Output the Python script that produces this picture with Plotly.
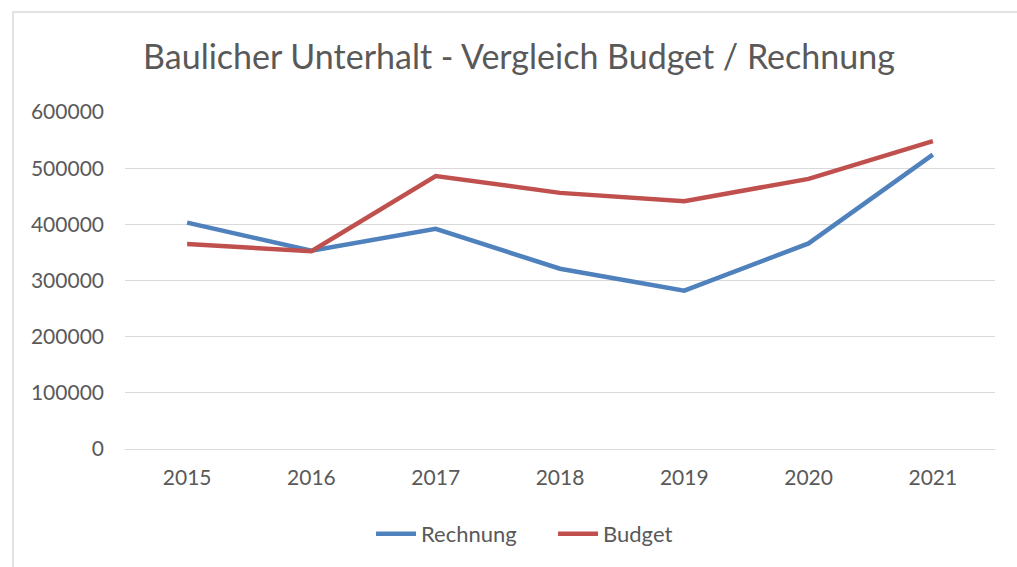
import plotly.graph_objects as go

years = ["2015", "2016", "2017", "2018", "2019", "2020", "2021"]
rechnung = [403000, 353000, 392000, 321000, 282000, 366000, 524000]
budget = [365000, 352000, 486000, 456000, 441000, 481000, 548000]
y_ticks = [0, 100000, 200000, 300000, 400000, 500000, 600000]

font_family = "Lato, Open Sans, sans-serif"
gray = "#595959"

fig = go.Figure()
fig.add_trace(go.Scatter(x=years, y=rechnung, mode="lines", name="Rechnung",
                         line=dict(color="#4F81BD", width=4.5)))
fig.add_trace(go.Scatter(x=years, y=budget, mode="lines", name="Budget",
                         line=dict(color="#C0504D", width=4.5)))

fig.update_layout(
    width=1017, height=567,
    margin=dict(l=125, r=22, t=112, b=118),
    paper_bgcolor="white", plot_bgcolor="white",
    title=dict(text="Baulicher Unterhalt - Vergleich Budget / Rechnung",
               x=0.5103, xanchor="center", y=0.8995, yanchor="middle",
               font=dict(family=font_family, size=34, color=gray)),
    font=dict(family=font_family, size=21, color=gray),
    xaxis=dict(type="category", range=[-0.5, 6.5], showgrid=False,
               showline=True, linecolor="#d9d9d9", linewidth=1.3,
               ticks="", tickfont=dict(size=21, color=gray), ticklabelstandoff=10),
    yaxis=dict(range=[0, 600000], tickvals=y_ticks, tickformat="d",
               showgrid=True, gridcolor="#d9d9d9", gridwidth=1.3,
               zeroline=False, showline=False, ticks="",
               tickfont=dict(size=21, color=gray), ticklabelstandoff=20),
    legend=dict(orientation="h", x=0.2828, xanchor="left", y=-0.19, yanchor="top",
                font=dict(size=22, color=gray), itemwidth=40,
                entrywidth=127, entrywidthmode="pixels"),
    shapes=[dict(type="rect", xref="paper", yref="paper",
                 x0=-0.1287, x1=1.06, y0=-0.5, y1=1.297,
                 line=dict(color="#d9d9d9", width=1.5))],
)

fig.write_html("out.html", config={"displayModeBar": False},
               post_script="document.body.style.margin='0';")
